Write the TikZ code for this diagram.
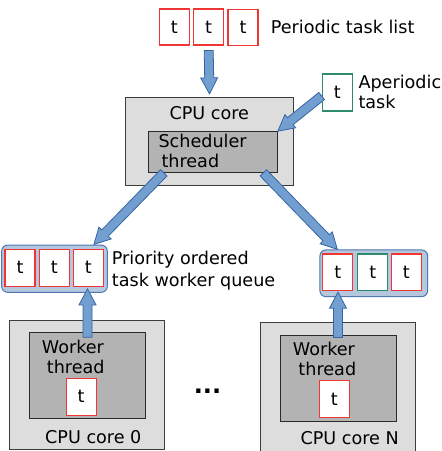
\documentclass[tikz,border=0pt]{standalone}
\usepackage{fontspec}
\setmainfont{DejaVu Sans}
\usetikzlibrary{calc}
\definecolor{arrfill}{HTML}{729FCF}
\definecolor{arrdraw}{HTML}{3465A4}
\definecolor{qfill}{HTML}{B4C7DC}
\definecolor{qdraw}{HTML}{5078B0}
\definecolor{tred}{HTML}{F03535}
\definecolor{tgreen}{HTML}{2E8B6E}
\definecolor{corefill}{HTML}{DDDDDD}
\definecolor{coredraw}{HTML}{3C3C3C}
\definecolor{thrfill}{HTML}{B3B3B3}
\definecolor{thrdraw}{HTML}{2A2A2A}
\newcommand\bluearrow[2]{%
  \draw[blockarrow] let \p1=(#1), \p2=(#2),
    \n1={atan2(\y2-\y1,\x2-\x1)}, \n2={veclen(\x2-\x1,\y2-\y1)} in
    [shift={(\p1)}, rotate=\n1]
    (0,-4.5) -- ({\n2-16},-4.5) -- ({\n2-16},-8.5) -- ({\n2},0)
    -- ({\n2-16},8.5) -- ({\n2-16},4.5) -- (0,4.5) -- cycle;}
\begin{document}
\begin{tikzpicture}[x=1pt,y=-1pt,
  every node/.style={font=\fontsize{17.6}{20}\selectfont, inner sep=0pt},
  tbox/.style={draw=tred, fill=white, line width=1.1pt, minimum width=30pt, minimum height=36pt},
  gbox/.style={tbox, draw=tgreen},
  core/.style={draw=coredraw, fill=corefill, line width=1pt},
  thr/.style={draw=thrdraw, fill=thrfill, line width=1pt},
  queue/.style={draw=qdraw, fill=qfill, line width=1pt, rounded corners=6pt},
  blockarrow/.style={draw=arrdraw, fill=arrfill, line width=0.8pt, line join=miter},
  lbl/.style={anchor=west, align=left}]
\useasboundingbox (0,0) rectangle (442,451);
\clip (0,0) rectangle (442,451);
\fill[white] (0,0) rectangle (442,451);

% periodic task list
\node[tbox] (p1) at (174.2,27) {t};
\node[tbox] (p2) at (208.7,27) {t};
\node[tbox] (p3) at (243,27.5) {t};
\node[lbl] (plabel) at (270.7,26.7) {Periodic task list};

% aperiodic task
\node[gbox, minimum height=37pt] (ap) at (337.2,92.5) {t};
\node[lbl] (aplabel) at (358.3,91.7) {Aperiodic\\task};

% central CPU core
\node[core, minimum width=167.6pt, minimum height=87.7pt] (cpu) at (209.5,141.2) {};
\node (cpulabel) at (209.3,113.3) {CPU core};
\node[thr, minimum width=129pt, minimum height=40.6pt] (sched) at (212.8,152) {};
\node[lbl] (schedlabel) at (158.3,151.2) {Scheduler\\\hspace{3pt}thread};

% left queue
\node[queue, minimum width=105.6pt, minimum height=47.3pt] (lq) at (54.5,268.7) {};
\node[tbox, minimum height=36.7pt] (q1) at (20,267.7) {t};
\node[tbox, minimum height=36.7pt] (q2) at (54.3,267.7) {t};
\node[tbox, minimum height=36.7pt] (q3) at (88.3,267.7) {t};
\node[lbl, font=\fontsize{17.6}{21.7}\selectfont] (qlabel) at (111.7,270.8) {Priority ordered\\task worker queue};

% right queue
\node[queue, minimum width=107.7pt, minimum height=46.7pt] (rq) at (373.8,273.3) {};
\node[tbox, minimum height=36.7pt] (r1) at (337.7,272.3) {t};
\node[gbox, minimum height=36.7pt] (r2) at (372.7,272.3) {t};
\node[tbox, minimum height=36.7pt] (r3) at (406.3,272.3) {t};

% CPU core 0
\node[core, minimum width=154.7pt, minimum height=128.6pt] (c0) at (86.7,385) {};
\node[thr, minimum width=116.4pt, minimum height=86.3pt] (wt0) at (87.5,375.8) {};
\node[lbl] (wt0label) at (41.7,357) {Worker\\\hspace{5pt}thread};
\node[tbox, minimum width=30.3pt, minimum height=36.7pt] (t0) at (81.2,396.7) {t};
\node (c0label) at (93.3,437.3) {CPU core 0};

% dots
\node[anchor=base, font=\fontsize{24}{28}\selectfont\bfseries] (dots) at (207.5,393.5) {...};

% CPU core N
\node[core, minimum width=155pt, minimum height=137.4pt] (cN) at (337.5,391.4) {};
\node[thr, minimum width=116pt, minimum height=86pt] (wtN) at (338,378) {};
\node[lbl] (wtNlabel) at (292.7,359.3) {Worker\\\hspace{5.6pt}thread};
\node[tbox, minimum width=29.7pt, minimum height=36.6pt] (tN) at (334.2,399) {t};
\node (cNlabel) at (349.7,437.7) {CPU core N};

% arrows
\bluearrow{[yshift=-5pt]p2.south}{[yshift=3pt]cpu.north}
\bluearrow{[yshift=-3.5pt]ap.west}{sched.north east}
\bluearrow{[xshift=-49pt]sched.south}{[xshift=-14pt]lq.north east}
\bluearrow{[xshift=50.5pt]sched.south}{[xshift=18pt]rq.north west}
\bluearrow{[yshift=-5pt]wt0.north}{$(wt0.north |- q3.south)+(0,2.3)$}
\bluearrow{[yshift=-3pt]wtN.north}{$(wtN.north |- r1.south)+(0,1)$}
\end{tikzpicture}
\end{document}
